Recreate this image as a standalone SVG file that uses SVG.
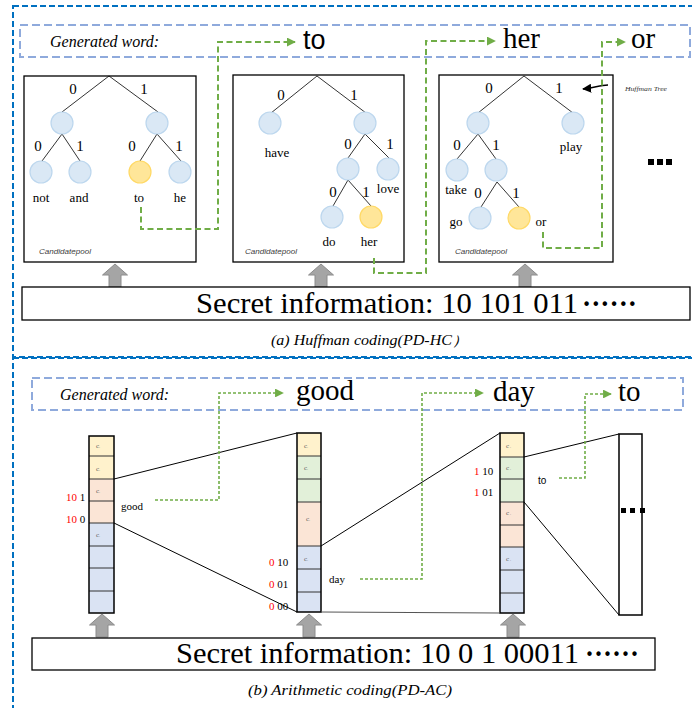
<svg xmlns="http://www.w3.org/2000/svg" width="692" height="708" viewBox="0 0 692 708">
<style>
.outer{fill:none;stroke:#0070c0;stroke-width:2;stroke-dasharray:6 3}
.gw{fill:none;stroke:#8faadc;stroke-width:2;stroke-dasharray:8 4}
.box{fill:#fff;stroke:#000;stroke-width:1.3}
.edge{stroke:#000;stroke-width:0.8;fill:none}
.nd{fill:#dae8f5;stroke:#bdd7ee;stroke-width:1.2}
.sel{fill:#ffe699;stroke:#ffd966;stroke-width:1.2}
.bit{font-family:"Liberation Serif",serif;font-size:15px;fill:#000;text-anchor:middle}
.wd{font-family:"Liberation Serif",serif;font-size:13px;fill:#000;text-anchor:middle}
.pool{font-family:"Liberation Sans",sans-serif;font-style:italic;font-size:7px;fill:#404040}
.gtxt{font-family:"Liberation Serif",serif;font-style:italic;font-size:16px;fill:#000}
.big{font-family:"Liberation Serif",serif;font-size:29px;fill:#000}
.sec{font-family:"Liberation Serif",serif;font-size:30px;fill:#000}
.cap{font-family:"Liberation Serif",serif;font-style:italic;font-size:14px;fill:#000}
.gpath{fill:none;stroke:#70ad47;stroke-width:2;stroke-dasharray:6 3.5}
.gdot{fill:none;stroke:#70ad47;stroke-width:1.6;stroke-dasharray:3 2}
.arr{fill:#a5a5a5;stroke:#8c8c8c;stroke-width:1}
.y{fill:#fff2cc}.g{fill:#e2f0d9}.p{fill:#fbe5d6}.b{fill:#dae3f3}
.sep{stroke:#333;stroke-width:1}
.bar{fill:none;stroke:#000;stroke-width:1.5}
.c{font-family:"Liberation Serif",serif;font-size:7px;fill:#595959}
.lab{font-family:"Liberation Serif",serif;font-size:11px;fill:#000}
.red{fill:#ff0000}
.ln{stroke:#000;stroke-width:1;fill:none}
</style>
<defs>
<marker id="gh" viewBox="0 0 10 10" refX="9" refY="5" markerWidth="4.5" markerHeight="4.5" orient="auto" markerUnits="strokeWidth"><path d="M0,0 L10,5 L0,10 Z" fill="#70ad47"/></marker>
<marker id="gh2" viewBox="0 0 10 10" refX="9" refY="5" markerWidth="5.5" markerHeight="5.5" orient="auto" markerUnits="strokeWidth"><path d="M0,0 L10,5 L0,10 Z" fill="#70ad47"/></marker>
<marker id="bh" viewBox="0 0 10 10" refX="9" refY="5" markerWidth="7" markerHeight="7" orient="auto" markerUnits="strokeWidth"><path d="M0,0 L10,5 L0,10 Z" fill="#000"/></marker>
<path id="up" d="M0,0 L12.5,11 L6,11 L6,23 L-6,23 L-6,11 L-12.5,11 Z"/>
</defs>

<!-- section frames -->
<rect class="outer" x="13" y="6" width="690" height="351"/>
<rect class="outer" x="13" y="358" width="690" height="400"/>

<!-- ===== Top: Huffman ===== -->
<g id="gen-word-a">
<rect class="gw" x="20" y="25" width="670" height="32"/>
<text class="gtxt" x="50" y="47">Generated word:</text>
<text x="303" y="49" font-family="Liberation Sans,sans-serif" font-size="27">to</text>
<text class="big" x="503" y="48" font-size="30">her</text>
<text class="big" x="631" y="48" font-size="30">or</text>
</g>

<g id="tree1">
<rect class="box" x="24" y="76" width="172" height="186"/>
<path class="edge" d="M109,76 L62,112 M109,76 L158,112 M62,134 L42,161 M62,134 L80,161 M157,134 L140,161 M157,134 L181,161"/>
<circle class="nd" cx="62" cy="123" r="11"/><circle class="nd" cx="157" cy="123" r="11"/>
<circle class="nd" cx="41" cy="172" r="11"/><circle class="nd" cx="80" cy="172" r="11"/>
<circle class="sel" cx="140" cy="172" r="11"/><circle class="nd" cx="180" cy="172" r="11"/>
<text class="bit" x="73" y="94">0</text><text class="bit" x="144" y="94">1</text>
<text class="bit" x="38" y="151">0</text><text class="bit" x="80" y="151">1</text>
<text class="bit" x="132" y="151">0</text><text class="bit" x="179" y="151">1</text>
<text class="wd" x="41" y="202">not</text><text class="wd" x="79" y="202">and</text>
<text class="wd" x="139" y="202">to</text><text class="wd" x="180" y="202">he</text>
<text class="pool" x="39" y="254" textLength="52" lengthAdjust="spacingAndGlyphs">Candidatepool</text>
</g>

<g id="tree2">
<rect class="box" x="233" y="75" width="171" height="187"/>
<path class="edge" d="M317,76 L271,113 M317,76 L366,113 M365,134 L348,158 M365,134 L389,158 M348,180 L333,206 M348,180 L371,206"/>
<circle class="nd" cx="270" cy="123" r="11"/><circle class="nd" cx="365" cy="123" r="11"/>
<circle class="nd" cx="348" cy="169" r="11"/><circle class="nd" cx="388" cy="169" r="11"/>
<circle class="nd" cx="332" cy="217" r="11"/><circle class="sel" cx="371" cy="217" r="11"/>
<text class="bit" x="281" y="100">0</text><text class="bit" x="354" y="100">1</text>
<text class="bit" x="348" y="149">0</text><text class="bit" x="390" y="149">1</text>
<text class="bit" x="333" y="197">0</text><text class="bit" x="366" y="197">1</text>
<text class="wd" x="277" y="157">have</text><text class="wd" x="388" y="193">love</text>
<text class="wd" x="329" y="246">do</text><text class="wd" x="369" y="246">her</text>
<text class="pool" x="245" y="254" textLength="52" lengthAdjust="spacingAndGlyphs">Candidatepool</text>
</g>

<g id="tree3">
<rect class="box" x="439" y="75" width="174" height="187"/>
<path class="edge" d="M524,76 L478,113 M524,76 L573,113 M478,134 L457,159 M478,134 L496,159 M497,182 L481,207 M497,182 L519,207"/>
<circle class="nd" cx="478" cy="123" r="11"/><circle class="nd" cx="573" cy="123" r="11"/>
<circle class="nd" cx="457" cy="170" r="11"/><circle class="nd" cx="496" cy="170" r="11"/>
<circle class="nd" cx="480" cy="218" r="11"/><circle class="sel" cx="519" cy="218" r="11"/>
<text class="bit" x="489" y="93">0</text><text class="bit" x="559" y="93">1</text>
<text class="bit" x="457" y="150">0</text><text class="bit" x="496" y="150">1</text>
<text class="bit" x="478" y="198">0</text><text class="bit" x="516" y="198">1</text>
<text class="wd" x="571" y="151">play</text><text class="wd" x="456" y="194">take</text>
<text class="wd" x="456" y="226">go</text><text class="wd" x="541" y="226">or</text>
<text class="pool" x="455" y="254" textLength="52" lengthAdjust="spacingAndGlyphs">Candidatepool</text>
</g>

<g id="huffman-label">
<path d="M608,85 C600,85 594,88 583,89" fill="none" stroke="#000" stroke-width="1.3" marker-end="url(#bh)"/>
<text x="625" y="91" font-family="Liberation Serif,serif" font-style="italic" font-size="6" fill="#333" textLength="42" lengthAdjust="spacingAndGlyphs">Huffman Tree</text>
</g>

<g id="more-a">
<rect x="648" y="159" width="6" height="6" fill="#000"/><rect x="657" y="159" width="6" height="6" fill="#000"/><rect x="666" y="159" width="6" height="6" fill="#000"/>
</g>

<g id="secret-a">
<use href="#up" class="arr" x="115" y="264"/>
<use href="#up" class="arr" x="321" y="264"/>
<use href="#up" class="arr" x="525" y="264"/>
<rect class="box" x="22" y="287" width="668" height="33"/>
<text class="sec" x="196" y="313" textLength="382" lengthAdjust="spacingAndGlyphs">Secret information: 10 101 011</text>
<text class="sec" x="582" y="313" textLength="55" lengthAdjust="spacingAndGlyphs" font-weight="bold">······</text>
<text class="cap" x="271" y="345" textLength="197" lengthAdjust="spacingAndGlyphs">(a) Huffman coding(PD-HC）</text>
</g>

<g id="connectors-a">
<path class="gpath" d="M141,207 L141,229 L218,229 L218,42 L295,42" marker-end="url(#gh)"/>
<path class="gpath" d="M374,258 L374,273 L426,273 L426,41 L495,41" marker-end="url(#gh)"/>
<path class="gpath" d="M543,232 L543,248 L602,248 L602,42 L625,42" marker-end="url(#gh)"/>
</g>

<!-- ===== Bottom: Arithmetic ===== -->
<g id="gen-word-b">
<rect class="gw" x="32" y="378" width="651" height="32"/>
<text class="gtxt" x="60" y="400">Generated word:</text>
<text class="big" x="296" y="400">good</text>
<text class="big" x="493" y="401">day</text>
<text class="big" x="618" y="401">to</text>
</g>

<g id="bar1">
<rect class="y" x="89" y="436" width="25" height="43"/>
<rect class="p" x="89" y="479" width="25" height="44"/>
<rect class="b" x="89" y="523" width="25" height="90"/>
<path class="sep" d="M89,456H114M89,479H114M89,501H114M89,523H114M89,546H114M89,568H114M89,591H114"/>
<rect class="bar" x="89" y="436" width="25" height="177"/>
<text class="c" x="96" y="448">c<tspan font-size="4">.</tspan></text>
<text class="c" x="96" y="471">c<tspan font-size="4">.</tspan></text>
<text class="c" x="96" y="493">c<tspan font-size="4">.</tspan></text>
<text class="c" x="96" y="537">c<tspan font-size="4">.</tspan></text>
<text class="lab" x="66" y="501"><tspan class="red">10</tspan> 1</text>
<text class="lab" x="66" y="523"><tspan class="red">10</tspan> 0</text>
<text class="lab" x="121" y="510">good</text>
</g>

<g id="bar2">
<rect class="y" x="297" y="433" width="24" height="23"/>
<rect class="g" x="297" y="456" width="24" height="46"/>
<rect class="p" x="297" y="502" width="24" height="44"/>
<rect class="b" x="297" y="546" width="24" height="66"/>
<path class="sep" d="M297,456H321M297,479H321M297,502H321M297,546H321M297,569H321M297,592H321"/>
<rect class="bar" x="297" y="433" width="24" height="179"/>
<text class="c" x="304" y="448">c<tspan font-size="4">.</tspan></text>
<text class="c" x="304" y="470">c<tspan font-size="4">.</tspan></text>
<text class="c" x="306" y="521">c<tspan font-size="4">.</tspan></text>
<text class="c" x="304" y="561">c<tspan font-size="4">.</tspan></text>
<text class="lab" x="269" y="566"><tspan class="red">0</tspan> 10</text>
<text class="lab" x="269" y="588"><tspan class="red">0</tspan> 01</text>
<text class="lab" x="269" y="610"><tspan class="red">0</tspan> 00</text>
<text class="lab" x="329" y="583">day</text>
</g>

<g id="bar3">
<rect class="y" x="500" y="433" width="24" height="24"/>
<rect class="g" x="500" y="457" width="24" height="45"/>
<rect class="p" x="500" y="502" width="24" height="45"/>
<rect class="b" x="500" y="547" width="24" height="66"/>
<path class="sep" d="M500,457H524M500,479H524M500,502H524M500,525H524M500,547H524M500,570H524M500,593H524"/>
<rect class="bar" x="500" y="433" width="24" height="180"/>
<text class="c" x="506" y="448">c<tspan font-size="4"> .</tspan></text>
<text class="c" x="506" y="470">c<tspan font-size="4"> .</tspan></text>
<text class="c" x="506" y="515">c<tspan font-size="4"> .</tspan></text>
<text class="c" x="506" y="561">c<tspan font-size="4"> .</tspan></text>
<text class="lab" x="474" y="475"><tspan class="red">1</tspan> 10</text>
<text class="lab" x="474" y="496"><tspan class="red">1</tspan> 01</text>
<text x="538" y="484" font-family="Liberation Sans,sans-serif" font-size="10" fill="#000">to</text>
</g>

<g id="bar4">
<rect x="619" y="434" width="23" height="181" fill="#fff" stroke="#000" stroke-width="1.5"/>
<rect x="621" y="508" width="5" height="5" fill="#000"/><rect x="630" y="508" width="5" height="5" fill="#000"/><rect x="640" y="508" width="5" height="5" fill="#000"/>
</g>

<g id="secret-b">
<use href="#up" class="arr" x="102" y="614"/>
<use href="#up" class="arr" x="309" y="614"/>
<use href="#up" class="arr" x="513" y="614"/>
<rect class="box" x="32" y="638" width="623" height="32"/>
<text class="sec" x="176" y="663" textLength="403" lengthAdjust="spacingAndGlyphs">Secret information: 10 0 1 00011</text>
<text class="sec" x="585" y="663" textLength="54" lengthAdjust="spacingAndGlyphs" font-weight="bold">······</text>
<text class="cap" x="248" y="695" textLength="204" lengthAdjust="spacingAndGlyphs">(b) Arithmetic coding(PD-AC)</text>
</g>

<g id="connectors-b">
<path class="ln" d="M114,479 L297,433"/>
<path class="ln" d="M114,523 L297,612"/>
<path class="ln" d="M321,546 L500,433"/>
<path d="M321,612 L500,613" stroke="#555" stroke-width="1.2" fill="none"/>
<path class="ln" d="M524,457 L619,434"/>
<path class="ln" d="M524,502 L619,615"/>
<path class="gdot" d="M155,500 L219,500 L219,393 L283,393" marker-end="url(#gh2)"/>
<path class="gdot" d="M360,579 L422,579 L422,393 L483,393" marker-end="url(#gh2)"/>
<path class="gdot" d="M559,478 L585,478 L585,394 L611,394" marker-end="url(#gh2)"/>
</g>
</svg>
